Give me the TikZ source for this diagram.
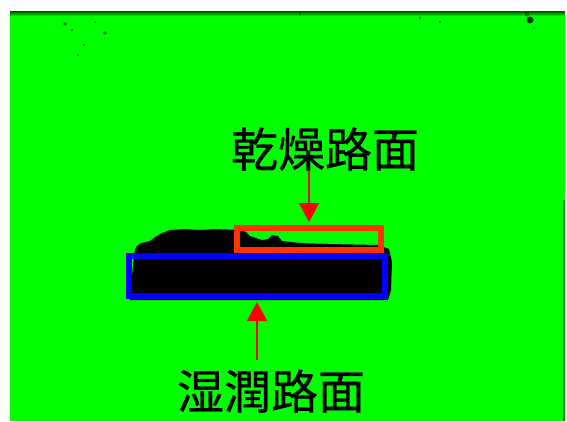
\documentclass[tikz,border=0pt]{standalone}
\usepackage{fontspec}
\newfontfamily\cjk[FakeBold=0.6]{Noto Sans CJK JP}
\usetikzlibrary{arrows.meta}
\definecolor{bggreen}{HTML}{00FF00}
\definecolor{boxred}{HTML}{FF3300}
\definecolor{arrred}{HTML}{FF0000}
\definecolor{boxblue}{HTML}{0000FF}
\begin{document}
\begin{tikzpicture}[x=1pt,y=-1pt,
  lbl/.style={font=\cjk\fontsize{47}{50}\selectfont, inner sep=0pt, text=black},
  framebox/.style={line width=6pt, inner sep=0pt, fill=none},
  pointer/.style={draw=arrred, line width=2pt, -{Triangle[width=20pt,length=19pt]}},
  speck/.style={fill=bggreen!35!black, draw=none, opacity=0.8}]
\useasboundingbox (0,0) rectangle (567,421);
% background
\fill[white] (0,0) rectangle (567,421);
\fill[bggreen] (10,11) rectangle (565,421);
\fill[bggreen!55!black] (563,200) rectangle (565,421);
% top edge noise
\fill[top color=black!70!bggreen, bottom color=bggreen, draw=none] (10,11) rectangle (565,16);
\foreach \p/\r in {{(65,24)/1.8},{(72,30)/1.2},{(105,33)/1.8},{(84,45)/1.3},{(78,55)/1.2},{(95,22)/1.0},{(420,18)/1.5},{(440,22)/1.3},{(300,14)/1.2},{(527,14)/2.5},{(534,28)/1.2}}
  \fill[speck] \p circle (\r);
\fill[black!80!bggreen] (530,20) circle (3.5);
% black blob (wet area)
\fill[black] (134,254) -- (136,247) -- (141,243) -- (150,241) -- (155,237) -- (162,233)
  -- (170,230) -- (185,229) -- (200,230) -- (215,229) -- (240,230) -- (246,232)
  -- (250,236) -- (256,238) -- (262,240) -- (268,239) -- (272,235) -- (278,236)
  -- (282,241) -- (300,243) -- (330,244) -- (378,245) -- (389,249) -- (392,262)
  -- (391,290) -- (388,300) -- (130,300) -- cycle;
% boxes
\node[framebox, draw=boxred, minimum width=144pt, minimum height=22pt] (dryb) at (309,239) {};
\node[framebox, draw=boxblue, minimum width=256pt, minimum height=40pt] (wetb) at (257,276) {};
% labels
\node[lbl] (dry) at (325,149) {乾燥路面};
\node[lbl] (wet) at (271,391) {湿潤路面};
% arrows
\draw[pointer, shorten >=3pt] (dry.south -| dryb.north) -- (dryb.north);
\draw[pointer, shorten >=3pt, shorten <=9pt] (wet.north -| wetb.south) -- (wetb.south);
\end{tikzpicture}
\end{document}
